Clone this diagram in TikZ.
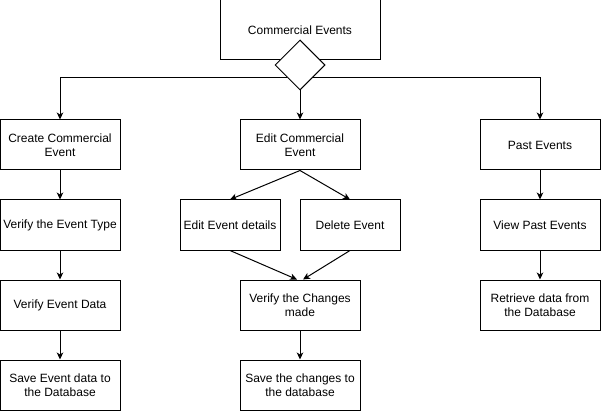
\documentclass[tikz,border=0pt]{standalone}
\usepackage{fontspec}
\setmainfont{Liberation Sans}
\usetikzlibrary{shapes.geometric,arrows.meta}
\begin{document}
\begin{tikzpicture}[x=1pt,y=-1pt,
    box/.style={draw,fill=white,line width=1pt,minimum width=120pt,minimum height=50pt,inner sep=0pt,align=center,font=\fontsize{12}{14}\selectfont},
    halfbox/.style={box,minimum width=100pt},
    flow/.style={line width=1pt,-{Stealth[length=7pt,width=6.5pt,inset=2pt]}}]
    \useasboundingbox (0,0) rectangle (601,411);
    \node[box,minimum width=160pt,minimum height=60pt] (events) at (300,30) {Commercial Events};
    \node[draw,fill=white,line width=1pt,diamond,aspect=1,minimum size=50pt,inner sep=0pt] (choice) at (300,65) {};
    \node[box] (create) at (60,145) {Create Commercial\\Event};
    \node[box] (edit) at (300,145) {Edit Commercial\\Event};
    \node[box] (past) at (540,145) {Past Events};
    \node[box] (type) at (60,225) {Verify the Event Type};
    \node[halfbox] (details) at (230,225) {Edit Event details};
    \node[halfbox] (delete) at (350,225) {Delete Event};
    \node[box] (view) at (540,225) {View Past Events};
    \node[box] (data) at (60,305) {Verify Event Data};
    \node[box] (changes) at (300,305) {Verify the Changes\\made};
    \node[box] (retrieve) at (540,305) {Retrieve data from\\the Database};
    \node[box] (savedata) at (60,385) {Save Event data to\\the Database};
    \node[box] (savechanges) at (300,385) {Save the changes to\\the database};
    \draw[flow] (choice.south west) -| (create);
    \draw[flow] (choice.south east) -| (past);
    \draw[flow] (choice) -- (edit);
    \draw[flow] (create) -- (type);
    \draw[flow] (type) -- (data);
    \draw[flow] (data) -- (savedata);
    \draw[flow] (edit.south) -- (details.north);
    \draw[flow] (edit.south) -- (delete.north);
    \draw[flow] (details.south) -- ([xshift=-3pt]changes.north);
    \draw[flow] (delete.south) -- ([xshift=3pt]changes.north);
    \draw[flow] (changes) -- (savechanges);
    \draw[flow] (past) -- (view);
    \draw[flow] (view) -- (retrieve);
\end{tikzpicture}
\end{document}
